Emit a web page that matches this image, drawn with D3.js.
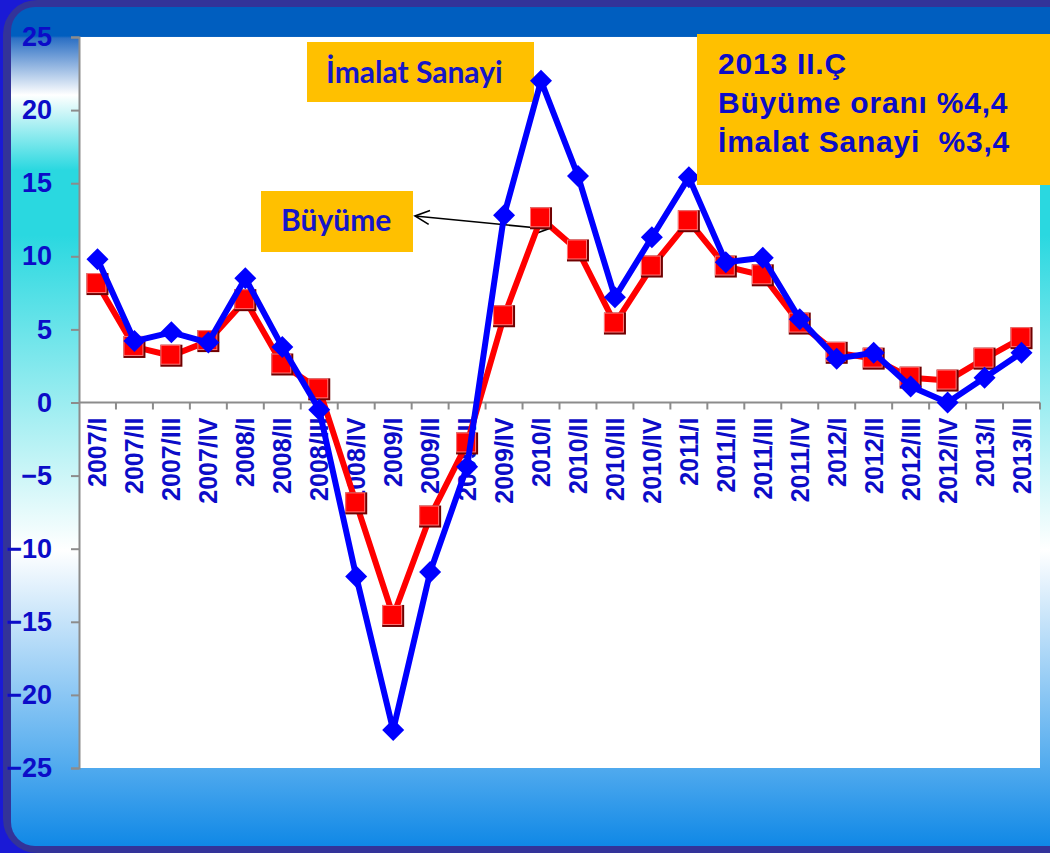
<!DOCTYPE html>
<html>
<head>
<meta charset="utf-8">
<script src="https://cdn.jsdelivr.net/npm/d3@7"></script>
<style>
  html, body { margin: 0; padding: 0; background: #ffffff; }
  svg { display: block; }
</style>
</head>
<body>
<div id="chart"></div>
<script>
// quarters shown on the x axis
const quarters = ["2007/I","2007/II","2007/III","2007/IV","2008/I","2008/II","2008/III","2008/IV",
  "2009/I","2009/II","2009/III","2009/IV","2010/I","2010/II","2010/III","2010/IV",
  "2011/I","2011/II","2011/III","2011/IV","2012/I","2012/II","2012/III","2012/IV","2013/I","2013/II"];

// GDP growth (Büyüme), %
const buyume = [8.1, 3.8, 3.2, 4.2, 7.0, 2.6, 0.9, -6.9, -14.6, -7.8, -2.8, 5.9, 12.6, 10.4, 5.4, 9.3,
  12.4, 9.3, 8.7, 5.4, 3.4, 3.0, 1.7, 1.5, 3.0, 4.4];

// manufacturing (İmalat Sanayi), %
const imalat = [9.8, 4.2, 4.8, 4.1, 8.5, 3.8, -0.5, -11.9, -22.4, -11.6, -4.4, 12.8, 22.0, 15.5, 7.2, 11.3,
  15.4, 9.6, 9.9, 5.7, 3.0, 3.4, 1.1, 0.0, 1.7, 3.4];

const yTicks = [-25, -20, -15, -10, -5, 0, 5, 10, 15, 20, 25];

const summaryLines = ["2013 II.Ç", "Büyüme oranı %4,4", "İmalat Sanayi  %3,4"];
const seriesLabels = ["İmalat Sanayi", "Büyüme"];

const W = 1050, H = 853;
const plot = {left: 79, right: 1040, top: 37, bottom: 768};
const textBlue = "#0c0cc8";

const svg = d3.select("#chart").append("svg")
  .attr("width", W)
  .attr("height", H);

// background frame gradient
const defs = svg.append("defs");
const grad = defs.append("linearGradient")
  .attr("id", "bg")
  .attr("gradientUnits", "userSpaceOnUse")
  .attr("x1", 0).attr("y1", 0).attr("x2", 0).attr("y2", H);
[[0, "#005ebf"], [36, "#005ebf"], [38, "#2b6fc4"], [95, "#ffffff"], [170, "#2ad8e0"],
 [235, "#2ad8e0"], [550, "#ffffff"], [768, "#50aaee"], [846, "#1088e6"]]
  .forEach(s => grad.append("stop").attr("offset", s[0] / H).attr("stop-color", s[1]));

svg.append("rect").attr("width", W).attr("height", H).attr("fill", "#1a1ad6");
svg.append("rect")
  .attr("x", 3).attr("y", 0).attr("width", W + 40).attr("height", H)
  .attr("rx", 34).attr("fill", "#333399");
svg.append("rect")
  .attr("x", 11).attr("y", 7).attr("width", W + 20).attr("height", 839)
  .attr("rx", 24).attr("fill", "url(#bg)");

// plot area
svg.append("rect")
  .attr("x", plot.left).attr("y", plot.top)
  .attr("width", plot.right - plot.left).attr("height", plot.bottom - plot.top)
  .attr("fill", "#ffffff");

const x = d3.scaleBand()
  .domain(quarters)
  .range([plot.left, plot.right])
  .padding(0);
const cx = d => x(d) + x.bandwidth() / 2;

const y = d3.scaleLinear()
  .domain([-25, 25])
  .range([plot.bottom, plot.top]);

// y axis
const yAxis = svg.append("g")
  .attr("transform", `translate(${plot.left},0)`)
  .call(d3.axisLeft(y).tickValues(yTicks).tickSize(8).tickPadding(19).tickFormat(d3.format("d")));
yAxis.select(".domain").attr("stroke", "#8c8c8c").attr("stroke-width", 2);
yAxis.selectAll(".tick line").attr("stroke", "#8c8c8c").attr("stroke-width", 2);
yAxis.selectAll(".tick text")
  .attr("fill", textBlue)
  .style("font-family", "'Liberation Sans', Arial, sans-serif")
  .style("font-weight", "bold")
  .style("font-size", "27px");

// x axis at zero, ticks between the quarters
const xAxis = svg.append("g");
xAxis.append("line")
  .attr("x1", plot.left).attr("x2", plot.right)
  .attr("y1", y(0)).attr("y2", y(0))
  .attr("stroke", "#8c8c8c").attr("stroke-width", 2);
xAxis.selectAll("line.tk")
  .data(quarters)
  .enter().append("line")
  .attr("class", "tk")
  .attr("x1", d => x(d) + x.bandwidth()).attr("x2", d => x(d) + x.bandwidth())
  .attr("y1", y(0)).attr("y2", y(0) + 7)
  .attr("stroke", "#8c8c8c").attr("stroke-width", 2);
xAxis.selectAll("text")
  .data(quarters)
  .enter().append("text")
  .attr("transform", d => `translate(${cx(d)},${y(0) + 15})rotate(-90)`)
  .attr("dy", "0.36em")
  .attr("text-anchor", "end")
  .attr("fill", textBlue)
  .style("font-family", "'Liberation Sans', Arial, sans-serif")
  .style("font-weight", "bold")
  .style("font-size", "25px")
  .text(d => d);

// annotation boxes
const boxFont = "Lato, 'Open Sans', sans-serif";
svg.append("rect").attr("x", 307).attr("y", 42).attr("width", 227).attr("height", 60).attr("fill", "#ffc000");
svg.append("text")
  .attr("x", 326).attr("y", 83)
  .attr("fill", "#1616c8")
  .style("font-family", boxFont).style("font-weight", "bold").style("font-size", "30px")
  .text(seriesLabels[0]);

svg.append("rect").attr("x", 261).attr("y", 191).attr("width", 152).attr("height", 61).attr("fill", "#ffc000");
svg.append("text")
  .attr("x", 281).attr("y", 231)
  .attr("fill", "#1616c8")
  .style("font-family", boxFont).style("font-weight", "bold").style("font-size", "30px")
  .text(seriesLabels[1]);

// double arrow from the Büyüme label to the line
const arrow = svg.append("g").attr("stroke", "#000").attr("stroke-width", 1.6).attr("fill", "none");
const a0 = [415, 216], a1 = [548, 229];
arrow.append("line").attr("x1", a0[0]).attr("y1", a0[1]).attr("x2", a1[0]).attr("y2", a1[1]);
const ang = Math.atan2(a1[1] - a0[1], a1[0] - a0[0]);
const head = (p, a) => {
  const L = 16, s = 0.45;
  return `M${p[0] + L * Math.cos(a - s)},${p[1] + L * Math.sin(a - s)}L${p[0]},${p[1]}L${p[0] + L * Math.cos(a + s)},${p[1] + L * Math.sin(a + s)}`;
};
arrow.append("path").attr("d", head(a0, ang));
arrow.append("path").attr("d", head(a1, ang + Math.PI));

// lines
const line = d3.line()
  .x((d, i) => cx(quarters[i]))
  .y(d => y(d));

svg.append("path")
  .datum(buyume)
  .attr("d", line)
  .attr("fill", "none")
  .attr("stroke", "#ff0000")
  .attr("stroke-width", 6)
  .attr("stroke-linejoin", "round");

const sq = svg.selectAll("g.sq")
  .data(buyume)
  .enter().append("g")
  .attr("class", "sq")
  .attr("transform", (d, i) => `translate(${cx(quarters[i])},${y(d)})`);
sq.append("rect").attr("x", -11).attr("y", -11).attr("width", 22).attr("height", 22).attr("fill", "#700000");
sq.append("rect").attr("x", -11).attr("y", -11).attr("width", 20).attr("height", 20).attr("fill", "#ff7878");
sq.append("rect").attr("x", -10).attr("y", -10).attr("width", 18).attr("height", 18).attr("fill", "#ff0000");

svg.append("path")
  .datum(imalat)
  .attr("d", line)
  .attr("fill", "none")
  .attr("stroke", "#0000ff")
  .attr("stroke-width", 6)
  .attr("stroke-linejoin", "round");

svg.selectAll("path.dm")
  .data(imalat)
  .enter().append("path")
  .attr("class", "dm")
  .attr("d", "M0,-11L11,0L0,11L-11,0Z")
  .attr("transform", (d, i) => `translate(${cx(quarters[i])},${y(d)})`)
  .attr("fill", "#0000ff");

// summary box top right
svg.append("rect").attr("x", 697).attr("y", 34).attr("width", 360).attr("height", 151).attr("fill", "#ffc000");
svg.append("g").selectAll("text")
  .data(summaryLines)
  .enter().append("text")
  .attr("x", 718)
  .attr("y", (d, i) => 74 + i * 39)
  .attr("fill", textBlue)
  .attr("xml:space", "preserve")
  .style("white-space", "pre")
  .style("font-family", "'Liberation Sans', Arial, sans-serif")
  .style("font-weight", "bold")
  .style("font-size", "30px")
  .style("letter-spacing", "0.8px")
  .text(d => d);
</script>
</body>
</html>
